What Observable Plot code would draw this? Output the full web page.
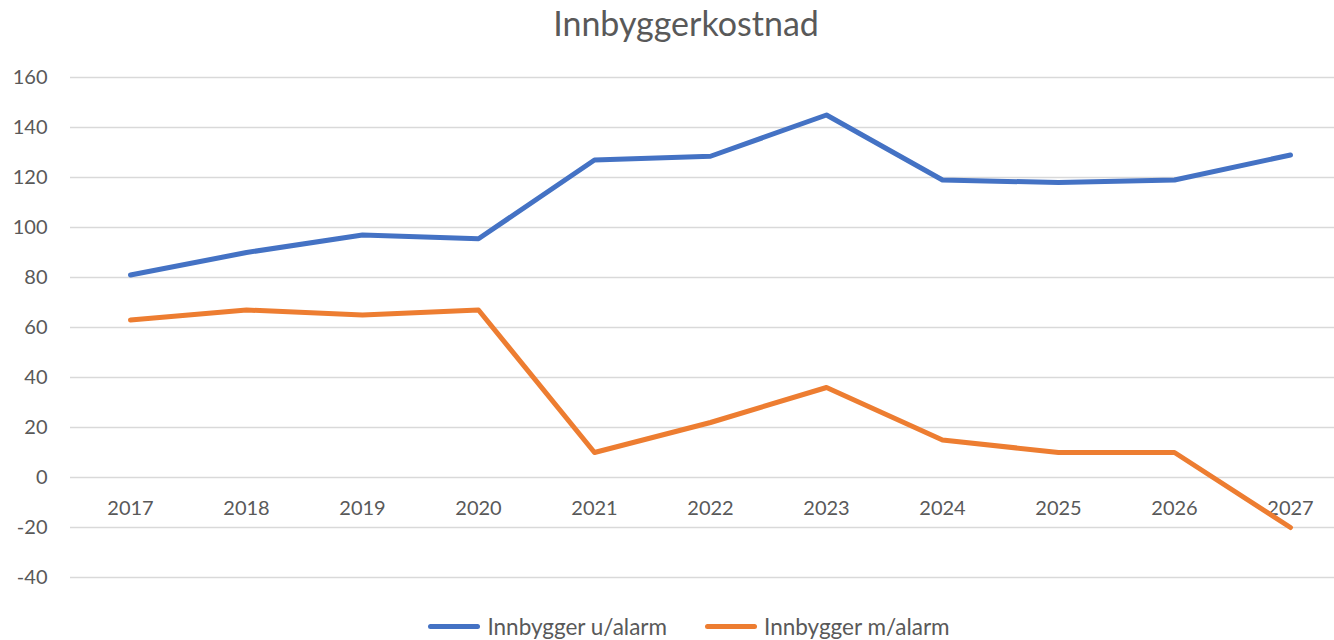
<!DOCTYPE html>
<html>
<head>
<meta charset="utf-8">
<script src="https://cdn.jsdelivr.net/npm/d3@7"></script>
<script src="https://cdn.jsdelivr.net/npm/@observablehq/plot@0.6"></script>
<style>
  html, body { margin: 0; padding: 0; background: #fff; }
  body { width: 1334px; height: 640px; overflow: hidden; font-family: Lato, "Open Sans", sans-serif; color: #595959; }
  #title { height: 50px; line-height: 46px; text-align: center; font-size: 34px; color: #595959; padding-left: 38px; }
  #legend { display: flex; justify-content: center; align-items: center; gap: 38px; font-size: 22.5px; color: #595959; padding-top: 6px; padding-left: 44px; }
  .item { display: flex; align-items: center; }
  .swatch { width: 52px; height: 5px; border-radius: 3px; margin-right: 7px; }
  svg { display: block; }
</style>
</head>
<body>
<div id="title">Innbyggerkostnad</div>
<div id="chart"></div>
<div id="legend"></div>
<script>
const years = ["2017","2018","2019","2020","2021","2022","2023","2024","2025","2026","2027"];
const seriesNames = ["Innbygger u/alarm", "Innbygger m/alarm"];
const uAlarm = [81, 90, 97, 95.5, 127, 128.5, 145, 119, 118, 119, 129];
const mAlarm = [63, 67, 65, 67, 10, 22, 36, 15, 10, 10, -20];
const yTicks = [-40, -20, 0, 20, 40, 60, 80, 100, 120, 140, 160];
const colors = ["#4472C4", "#ED7D31"];

const data = [];
years.forEach((y, i) => {
  data.push({year: y, series: seriesNames[0], value: uAlarm[i]});
  data.push({year: y, series: seriesNames[1], value: mAlarm[i]});
});

const plot = Plot.plot({
  width: 1334,
  height: 557,
  marginTop: 27,
  marginBottom: 30,
  marginLeft: 70,
  marginRight: 0,
  style: { fontFamily: "Lato, 'Open Sans', sans-serif", fontSize: "20px", color: "#595959", background: "#fff" },
  x: { type: "point", domain: years, range: [128, 1291], padding: 0, axis: null },
  y: { domain: [-40, 160] },
  color: { domain: seriesNames, range: colors },
  marks: [
    Plot.ruleY(yTicks, { stroke: "#d9d9d9", strokeWidth: 1.5 }),
    Plot.axisY(yTicks, { tickSize: 0, tickPadding: 23, label: null, fill: "#595959", fontSize: 20, tickFormat: d => String(d) }),
    Plot.text(years, { x: d => d, y: () => 0, dy: 31, fill: "#595959", fontSize: 20 }),
    Plot.line(data, { x: "year", y: "value", z: "series", stroke: "series", strokeWidth: 5, strokeLinecap: "round", strokeLinejoin: "round" })
  ]
});
document.getElementById("chart").appendChild(plot);

const legend = document.getElementById("legend");
seriesNames.forEach((name, i) => {
  const item = document.createElement("div");
  item.className = "item";
  const sw = document.createElement("div");
  sw.className = "swatch";
  sw.style.background = colors[i];
  const lbl = document.createElement("span");
  lbl.textContent = name;
  item.appendChild(sw);
  item.appendChild(lbl);
  legend.appendChild(item);
});
</script>
</body>
</html>
